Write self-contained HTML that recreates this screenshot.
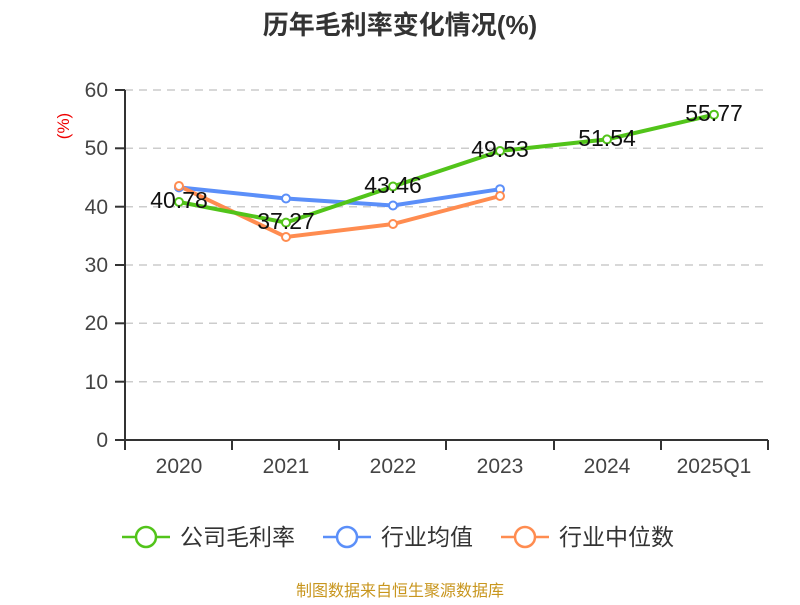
<!DOCTYPE html>
<html><head><meta charset="utf-8"><style>body{margin:0;background:#fff}</style></head><body>
<svg width="800" height="600" xmlns="http://www.w3.org/2000/svg" font-family="Liberation Sans, Noto Sans CJK SC, sans-serif">
<text x="400" y="34" text-anchor="middle" font-size="26" font-weight="bold" fill="#333">历年毛利率变化情况(%)</text>
<text transform="translate(69,126) rotate(-90)" text-anchor="middle" font-size="17" fill="#e00">(%)</text>
<g stroke="#ccc" stroke-width="1.5" stroke-dasharray="8,6">
<line x1="125" x2="768" y1="90" y2="90"/><line x1="125" x2="768" y1="148.3" y2="148.3"/><line x1="125" x2="768" y1="206.7" y2="206.7"/><line x1="125" x2="768" y1="265" y2="265"/><line x1="125" x2="768" y1="323.3" y2="323.3"/><line x1="125" x2="768" y1="381.7" y2="381.7"/>
</g>
<g stroke="#333" stroke-width="2">
<line x1="125" y1="90" x2="125" y2="440"/><line x1="125" y1="440" x2="768" y2="440"/>
<line x1="115" x2="125" y1="90" y2="90"/><line x1="115" x2="125" y1="148.3" y2="148.3"/><line x1="115" x2="125" y1="206.7" y2="206.7"/><line x1="115" x2="125" y1="265" y2="265"/><line x1="115" x2="125" y1="323.3" y2="323.3"/><line x1="115" x2="125" y1="381.7" y2="381.7"/><line x1="115" x2="125" y1="440" y2="440"/>
<line x1="125" x2="125" y1="440" y2="450"/><line x1="232" x2="232" y1="440" y2="450"/><line x1="339" x2="339" y1="440" y2="450"/><line x1="446" x2="446" y1="440" y2="450"/><line x1="554" x2="554" y1="440" y2="450"/><line x1="661" x2="661" y1="440" y2="450"/><line x1="768" x2="768" y1="440" y2="450"/>
</g>
<g font-size="21" fill="#444" text-anchor="end">
<text x="108" y="97">60</text><text x="108" y="155">50</text><text x="108" y="214">40</text><text x="108" y="272">30</text><text x="108" y="330">20</text><text x="108" y="389">10</text><text x="108" y="447">0</text>
</g>
<g font-size="21" fill="#444" text-anchor="middle">
<text x="179" y="473">2020</text><text x="286" y="473">2021</text><text x="393" y="473">2022</text><text x="500" y="473">2023</text><text x="607" y="473">2024</text><text x="714" y="473">2025Q1</text>
</g>
<g fill="none" stroke-width="4">
<polyline stroke="#5b8ff9" points="179,187.4 286,198.5 393,205.5 500,189.2"/>
<polyline stroke="#ff8c50" points="179,186 286,237 393,224 500,196"/>
<polyline stroke="#52c41a" points="179,202 286,222.6 393,186.5 500,151 607,139.4 714,114.7"/>
</g>
<g fill="#fff" stroke-width="2">
<g stroke="#5b8ff9"><circle cx="179" cy="187.4" r="4"/><circle cx="286" cy="198.5" r="4"/><circle cx="393" cy="205.5" r="4"/><circle cx="500" cy="189.2" r="4"/></g>
<g stroke="#ff8c50"><circle cx="179" cy="186" r="4"/><circle cx="286" cy="237" r="4"/><circle cx="393" cy="224" r="4"/><circle cx="500" cy="196" r="4"/></g>
<g stroke="#52c41a"><circle cx="179" cy="202" r="4"/><circle cx="286" cy="222.6" r="4"/><circle cx="393" cy="186.5" r="4"/><circle cx="500" cy="151" r="4"/><circle cx="607" cy="139.4" r="4"/><circle cx="714" cy="114.7" r="4"/></g>
</g>
<g font-size="23" fill="#111" text-anchor="middle">
<text x="179" y="208">40.78</text><text x="286" y="229">37.27</text><text x="393" y="193">43.46</text><text x="500" y="157">49.53</text><text x="607" y="146">51.54</text><text x="714" y="121">55.77</text>
</g>
<g stroke-width="2.5" fill="#fff">
<line x1="122" x2="170" y1="537" y2="537" stroke="#52c41a"/><circle cx="146" cy="537" r="10" stroke="#52c41a"/>
<line x1="323" x2="371" y1="537" y2="537" stroke="#5b8ff9"/><circle cx="347" cy="537" r="10" stroke="#5b8ff9"/>
<line x1="501" x2="549" y1="537" y2="537" stroke="#ff8c50"/><circle cx="525" cy="537" r="10" stroke="#ff8c50"/>
</g>
<g font-size="23" fill="#333">
<text x="180" y="545">公司毛利率</text><text x="381" y="545">行业均值</text><text x="559" y="545">行业中位数</text>
</g>
<text x="400" y="596" text-anchor="middle" font-size="16" fill="#c8961e">制图数据来自恒生聚源数据库</text>
</svg>
</body></html>
